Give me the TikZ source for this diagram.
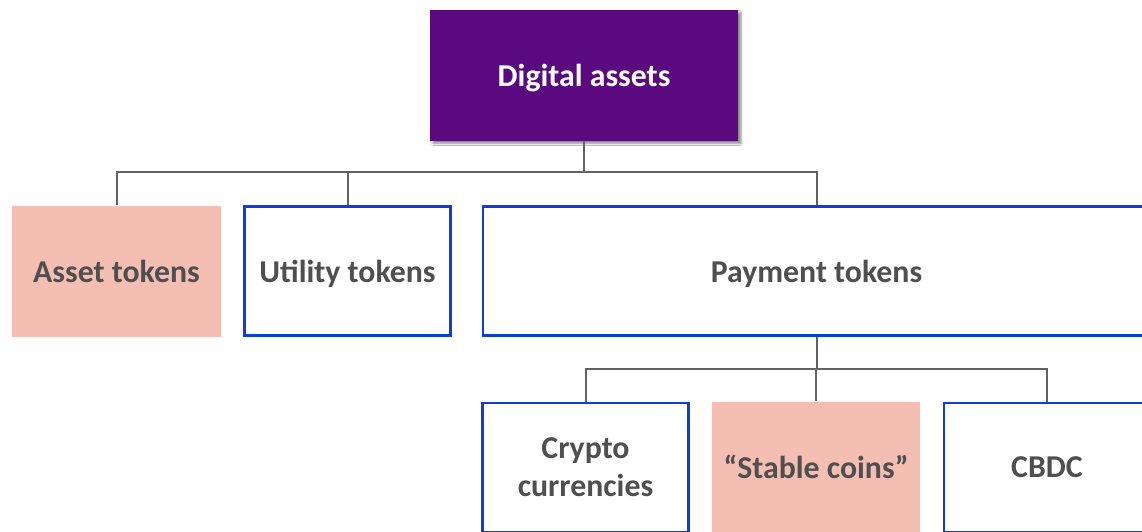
\documentclass[tikz,border=0pt]{standalone}
\usepackage{fontspec}
\setmainfont{Carlito}
\usetikzlibrary{shadows.blur}
\definecolor{topfill}{HTML}{5A0A7E}
\definecolor{pinkfill}{HTML}{F4BEB2}
\definecolor{edgeblue}{HTML}{0B3FD8}
\definecolor{linkgray}{HTML}{626262}
\definecolor{textgray}{HTML}{4F4F4F}
\tikzset{
  x=1pt, y=-1pt,
  base/.style={minimum height=131pt, inner sep=0pt, align=center,
    font=\fontsize{31.8}{38}\selectfont\bfseries, text=textgray},
  oneline/.style={text depth=0pt},
  rootbox/.style={base, oneline, fill=topfill, text=white, minimum width=308pt,
    blur shadow={shadow xshift=3pt, shadow yshift=-3pt, shadow blur steps=6, shadow opacity=45}},
  pinkbox/.style={base, fill=pinkfill},
  bluebox/.style={base, draw=edgeblue, line width=2.6pt, fill=white},
  link/.style={draw=linkgray, line width=2pt}
}
\begin{document}
\begin{tikzpicture}
\useasboundingbox (0,0) rectangle (1142,531);
\clip (0,0) rectangle (1142,531);
\fill[white] (0,0) rectangle (1142,531);
% top level
\node[rootbox] (root) at (584,75) {Digital assets};
% second level
\node[pinkbox, oneline, minimum width=209pt] (asset) at (116.5,271) {Asset tokens};
\node[bluebox, oneline, minimum width=206pt, minimum height=129pt] (utility) at (347.5,271) {Utility tokens};
\node[bluebox, oneline, minimum width=667pt, minimum height=129pt] (payment) at (816.5,271) {Payment tokens};
% third level
\node[bluebox, minimum width=206pt, minimum height=129pt] (crypto) at (585.5,467.5) {Crypto\\currencies};
\node[pinkbox, oneline, minimum width=208pt] (stable) at (816,467) {“Stable coins”};
\node[bluebox, oneline, minimum width=206pt, minimum height=129pt] (cbdc) at (1047,467.5) {CBDC};
% connectors
\coordinate (busA) at (584,172);
\coordinate (busB) at (817,369);
\draw[link] (root.south) -- (busA);
\draw[link] (asset.north -| 117,0) |- (busA) -| (payment.north -| 817,0);
\draw[link] (utility.north) -- (utility.north |- busA);
\draw[link] (payment.south -| busB) -- (busB);
\draw[link] (crypto.north) |- (busB) -| (cbdc.north);
\draw[link] (stable.north) -- (stable.north |- busB);
\end{tikzpicture}
\end{document}
